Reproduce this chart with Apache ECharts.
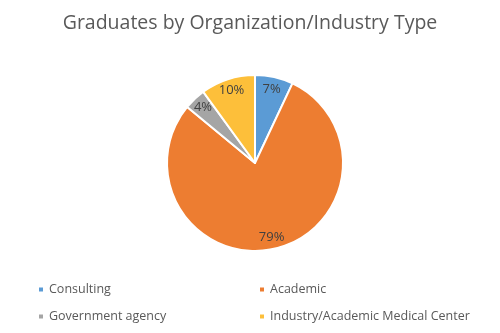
<!DOCTYPE html>
<html><head><meta charset="utf-8">
<script src="https://cdn.jsdelivr.net/npm/echarts@6/dist/echarts.min.js"></script>
<style>html,body{margin:0;padding:0;background:#fff}#c{width:500px;height:333px}</style>
</head><body><div id="c"></div>
<script>
var categories = ['Consulting', 'Academic', 'Government agency', 'Industry/Academic Medical Center'];
var values = [7, 79, 4, 10];
var colors = ['#5B9BD5', '#ED7D31', '#A5A5A5', '#FDBF3A'];
var titleText = 'Graduates by Organization/Industry Type';

var font = '"Open Sans", Calibri, sans-serif';
var data = categories.map(function (n, i) { return { name: n, value: values[i], itemStyle: { color: colors[i] } }; });
var legendText = { fontFamily: font, fontSize: 12.5, color: '#595959' };
var chart = echarts.init(document.getElementById('c'));
chart.setOption({
  animation: false,
  title: { text: titleText, left: 'center', top: 8, textStyle: { fontFamily: font, fontSize: 19.5, fontWeight: 'normal', color: '#595959' } },
  legend: [
    { data: [categories[0], categories[2]], orient: 'vertical', left: 32, top: 278, itemWidth: 6, itemHeight: 6, icon: 'rect', itemGap: 14, textStyle: legendText },
    { data: [categories[1], categories[3]], orient: 'vertical', left: 253, top: 278, itemWidth: 6, itemHeight: 6, icon: 'rect', itemGap: 14, textStyle: legendText }
  ],
  series: [
    { type: 'pie', center: [255, 163], radius: [0, 88], startAngle: 90, clockwise: true, data: data,
      itemStyle: { borderColor: '#fff', borderWidth: 2 }, label: { show: false }, labelLine: { show: false } },
    { type: 'pie', center: [255, 163], radius: [58, 88], startAngle: 90, clockwise: true, silent: true, legendHoverLink: false,
      data: categories.map(function (n, i) { return { name: n, value: values[i], itemStyle: { color: 'rgba(0,0,0,0)' } }; }),
      label: { show: true, position: 'inside', formatter: '{c}%', fontFamily: font, fontSize: 13, color: '#404040' },
      labelLine: { show: false } }
  ]
});
</script></body></html>
